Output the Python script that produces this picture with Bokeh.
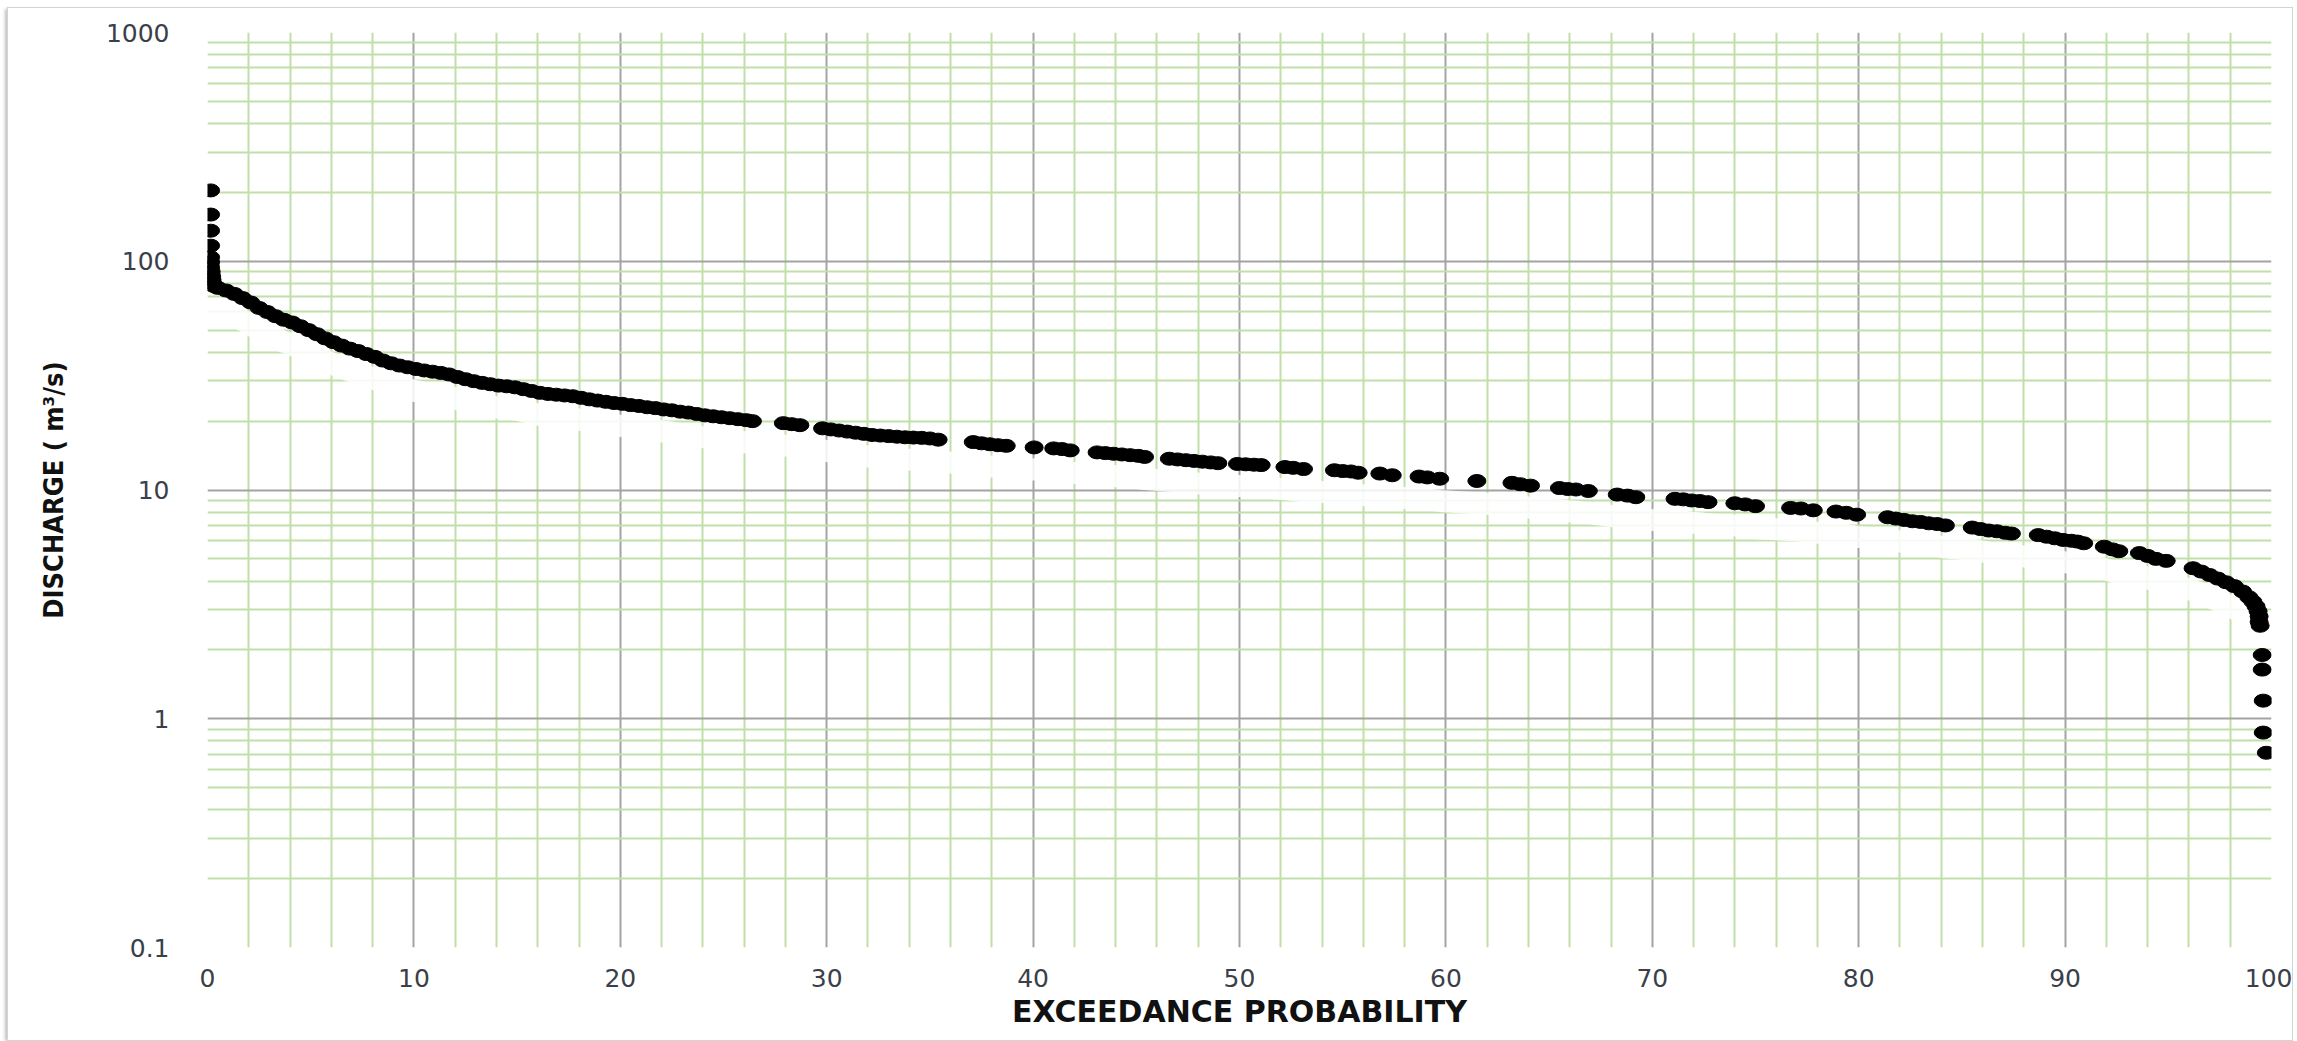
from bokeh.plotting import figure
from bokeh.models import FixedTicker, NumeralTickFormatter, ColumnDataSource
from bokeh.embed import file_html
from bokeh.resources import INLINE

# ---- data (exceedance probability %, discharge m3/s) ----
exceedance = (
    [0.15, 0.15, 0.15, 0.15, 0.15, 0.15, 0.15, 0.18, 0.2, 0.22, 0.25, 0.3]
    + [0.5, 0.9, 1.3, 1.7, 2.1, 2.5, 2.9, 3.3, 3.7, 4.1, 4.5, 4.9, 5.3, 5.7, 6.1, 6.5,
       6.9, 7.3, 7.7, 8.1, 8.5, 8.9, 9.3, 9.7, 10.1, 10.5, 10.9, 11.3, 11.7, 12.1, 12.5,
       12.9, 13.3, 13.7, 14.1, 14.5, 14.9, 15.3, 15.7, 16.1, 16.5, 16.9, 17.3, 17.7, 18.1,
       18.5, 18.9, 19.3, 19.7, 20.1, 20.5, 20.9, 21.3, 21.7, 22.1, 22.5, 22.9, 23.3, 23.7,
       24.1, 24.5, 24.9, 25.3, 25.7, 26.1, 26.4]
    + [27.9, 28.3, 28.7]
    + [29.8, 30.2, 30.6, 31.0, 31.4, 31.8, 32.2, 32.6, 33.0, 33.4, 33.8, 34.2, 34.6, 35.0, 35.4]
    + [37.1, 37.5, 37.9, 38.3, 38.7]
    + [40.05]
    + [41.0, 41.4, 41.8]
    + [43.1, 43.5, 43.9, 44.3, 44.7, 45.1, 45.4]
    + [46.6, 47.0, 47.4, 47.8, 48.2, 48.6, 48.95]
    + [49.9, 50.3, 50.7, 51.05]
    + [52.2, 52.6, 53.1]
    + [54.6, 55.0, 55.4, 55.75]
    + [56.8, 57.4]
    + [58.7, 59.1, 59.7]
    + [61.5]
    + [63.2, 63.6, 64.1]
    + [65.5, 65.9, 66.3, 66.9]
    + [68.3, 68.8, 69.2]
    + [71.1, 71.5, 71.9, 72.3, 72.7]
    + [74.0, 74.5, 75.0]
    + [76.7, 77.2, 77.8]
    + [78.9, 79.4, 79.9]
    + [81.4, 81.8, 82.2, 82.6, 83.0, 83.4, 83.8, 84.2]
    + [85.5, 85.9, 86.3, 86.7, 87.1, 87.4]
    + [88.7, 89.1, 89.5, 89.9, 90.3, 90.6, 90.9]
    + [91.9, 92.3, 92.6]
    + [93.6, 94.0, 94.4, 94.9]
    + [96.2, 96.6, 97.0, 97.4, 97.8, 98.2, 98.6, 98.9, 99.1, 99.25, 99.35, 99.4, 99.4, 99.45]
    + [99.55, 99.55, 99.6, 99.6, 99.75]
)

discharge = (
    [204, 160, 136, 117, 104, 99, 94, 90, 86, 83, 80, 78]
    + [76.5, 74.5, 72, 69, 66, 62.5, 60, 57.5, 55.5, 54, 52, 50, 48, 46, 44.3, 42.8,
       41.5, 40.5, 39.3, 38.2, 36.8, 35.8, 35.0, 34.4, 33.8, 33.3, 32.9, 32.5, 32.0, 31.2, 30.5,
       29.9, 29.4, 29.0, 28.6, 28.4, 28.1, 27.6, 27.1, 26.6, 26.3, 26.1, 25.9, 25.7, 25.3,
       24.9, 24.6, 24.3, 24.0, 23.8, 23.5, 23.3, 23.0, 22.8, 22.5, 22.3, 22.0, 21.8, 21.5,
       21.2, 21.0, 20.8, 20.6, 20.4, 20.2, 20.0]
    + [19.6, 19.4, 19.2]
    + [18.6, 18.4, 18.2, 18.0, 17.8, 17.6, 17.4, 17.3, 17.2, 17.1, 17.0, 16.95, 16.9, 16.8, 16.6]
    + [16.2, 16.0, 15.85, 15.7, 15.6]
    + [15.35]
    + [15.2, 15.1, 14.9]
    + [14.6, 14.5, 14.4, 14.3, 14.2, 14.1, 13.95]
    + [13.7, 13.6, 13.5, 13.4, 13.3, 13.2, 13.1]
    + [13.0, 12.95, 12.9, 12.85]
    + [12.6, 12.5, 12.35]
    + [12.2, 12.1, 12.05, 11.9]
    + [11.8, 11.6]
    + [11.45, 11.35, 11.2]
    + [10.95]
    + [10.75, 10.6, 10.45]
    + [10.2, 10.1, 10.05, 9.9]
    + [9.55, 9.45, 9.3]
    + [9.15, 9.1, 9.0, 8.95, 8.85]
    + [8.75, 8.65, 8.5]
    + [8.35, 8.3, 8.15]
    + [8.05, 7.95, 7.8]
    + [7.6, 7.5, 7.4, 7.3, 7.25, 7.15, 7.1, 7.0]
    + [6.85, 6.75, 6.65, 6.6, 6.5, 6.45]
    + [6.35, 6.25, 6.15, 6.05, 6.0, 5.95, 5.85]
    + [5.65, 5.5, 5.4]
    + [5.3, 5.15, 5.0, 4.9]
    + [4.55, 4.4, 4.25, 4.1, 3.95, 3.8, 3.6, 3.4, 3.25, 3.1, 2.95, 2.8, 2.65, 2.55]
    + [1.9, 1.64, 1.2, 0.87, 0.71]
)

x_tick_values = [0, 10, 20, 30, 40, 50, 60, 70, 80, 90, 100]
x_minor_values = [v for v in range(0, 101, 2) if v % 10 != 0]
y_tick_values = [0.1, 1, 10, 100, 1000]
y_minor_values = [m * d for d in [0.1, 1, 10, 100] for m in range(2, 10)]

x_title = "EXCEEDANCE PROBABILITY"
y_title = "DISCHARGE ( m\u00b3/s)"

n = min(len(exceedance), len(discharge))
src = ColumnDataSource(data=dict(x=exceedance[:n], y=discharge[:n]))

# soft white "shadow" under the curve (same data, drawn slightly lower)
shadow = ColumnDataSource(data=dict(x=exceedance[12:n - 12], y=[v / 1.25 for v in discharge[12:n - 12]]))

p = figure(
    width=2284, height=1032,
    y_axis_type="log",
    x_range=(0, 100), y_range=(0.1, 1000),
    output_backend="svg", toolbar_location=None,
    min_border_left=199, min_border_right=21,
    min_border_top=24, min_border_bottom=93,
    background_fill_color="white", border_fill_color="white",
    outline_line_color=None,
)
p.styles = {
    "margin-left": "8px",
    "margin-top": "8px",
    "box-shadow": "0 0 0 1px #d4d4d4, -3px 1px 3px rgba(0,0,0,0.25)",
}

xt = FixedTicker(ticks=x_tick_values, minor_ticks=x_minor_values)
yt = FixedTicker(ticks=y_tick_values, minor_ticks=y_minor_values)
p.xaxis.ticker = xt
p.yaxis.ticker = yt
p.xgrid.ticker = xt
p.ygrid.ticker = yt
p.yaxis.formatter = NumeralTickFormatter(format="0.[0]")

for g in (p.xgrid, p.ygrid):
    g.grid_line_color = "#a3a3a3"
    g.grid_line_width = 2
    g.minor_grid_line_color = "#c0dfa9"
    g.minor_grid_line_width = 2

for ax in (p.xaxis, p.yaxis):
    ax.axis_line_color = None
    ax.major_tick_line_color = None
    ax.minor_tick_line_color = None
    ax.major_label_text_font = "DejaVu Sans"
    ax.major_label_text_font_size = "25px"
    ax.major_label_text_color = "#3a3f4a"

p.xaxis.major_label_standoff = 15
p.yaxis.major_label_standoff = 32

p.xaxis.axis_label = x_title
p.xaxis.axis_label_text_font = "DejaVu Sans"
p.xaxis.axis_label_text_font_style = "bold"
p.xaxis.axis_label_text_font_size = "30px"
p.xaxis.axis_label_text_color = "#111111"
p.xaxis.axis_label_standoff = 4

p.yaxis.axis_label = y_title
p.yaxis.axis_label_text_font = "'Liberation Sans Narrow', 'DejaVu Sans Condensed', sans-serif"
p.yaxis.axis_label_text_font_style = "bold"
p.yaxis.axis_label_text_font_size = "27px"
p.yaxis.axis_label_text_color = "#111111"
p.yaxis.axis_label_standoff = 34

p.line(x="x", y="y", source=shadow, line_color="white", line_width=22, line_alpha=0.85,
       line_join="round", line_cap="round")

p.ellipse(x="x", y="y", width=18, height=13, width_units="screen", height_units="screen",
          fill_color="black", line_color="black", source=src)

open("out.html", "w").write(file_html(p, INLINE))
